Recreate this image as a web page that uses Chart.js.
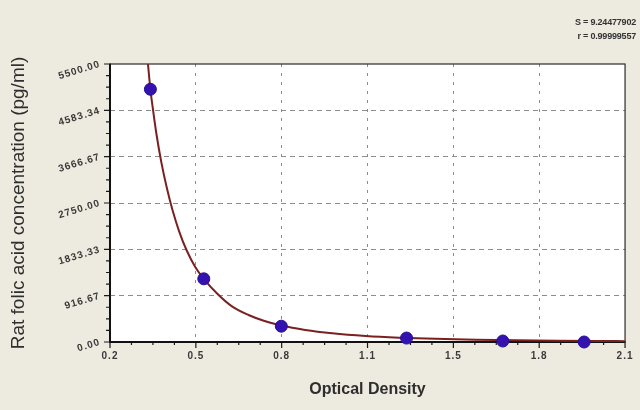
<!DOCTYPE html>
<html>
<head>
<meta charset="utf-8">
<script src="https://cdn.jsdelivr.net/npm/chart.js@4/dist/chart.umd.min.js"></script>
<style>
html,body{margin:0;padding:0;background:#edeadf;}
#wrap{position:relative;width:640px;height:410px;overflow:hidden;}
canvas{display:block;}
.stat{position:absolute;right:4px;font:bold 9px "Liberation Sans",Arial,sans-serif;color:#333;letter-spacing:-0.2px;white-space:nowrap;}
</style>
</head>
<body>
<div id="wrap">
<canvas id="c" width="640" height="410"></canvas>
<div class="stat" style="top:17px">S = 9.24477902</div>
<div class="stat" style="top:31px">r = 0.99999557</div>
</div>
<script>
// ---- data ----
const xTickValues = [0.2, 0.5167, 0.8333, 1.15, 1.4667, 1.7833, 2.1];
const xTickLabels = ['0.2', '0.5', '0.8', '1.1', '1.5', '1.8', '2.1'];
const yTickValues = [0, 916.67, 1833.33, 2750, 3666.67, 4583.34, 5500];
const yTickLabels = ['0.00', '916.67', '1833.33', '2750.00', '3666.67', '4583.34', '5500.00'];

const standardOD   = [0.349, 0.546, 0.832, 1.294, 1.649, 1.949];
const standardConc = [5000, 1250, 312.5, 78.13, 19.53, 0];

const curveOD   = [0.340, 0.349, 0.357, 0.372, 0.390, 0.410, 0.430, 0.455, 0.483, 0.515, 0.546, 0.595, 0.650, 0.711, 0.770, 0.832, 0.920, 1.020, 1.143, 1.267, 1.400, 1.550, 1.700, 1.850, 2.000, 2.100];
const curveConc = [5500, 5000, 4660, 4090, 3540, 3040, 2620, 2190, 1810, 1480, 1250, 960, 705, 534, 415, 325, 238, 172, 119, 86, 63, 46, 34, 26, 20, 17];

const xTitle = 'Optical Density';
const yTitle = 'Rat folic acid concentration (pg/ml)';

// ---- chart ----
const toPts = (xs, ys) => xs.map((x, i) => ({x: x, y: ys[i]}));
const FONT = '"Liberation Sans", Arial, sans-serif';

const framePlugin = {
  id: 'frame',
  beforeDraw(chart) {
    const {ctx, chartArea: a} = chart;
    ctx.save();
    ctx.fillStyle = '#ffffff';
    ctx.fillRect(a.left, a.top, a.right - a.left, a.bottom - a.top);
    ctx.restore();
  },
  beforeDatasetsDraw(chart) {
    const {ctx, chartArea: a, scales} = chart;
    const xs = scales.x, ys = scales.y;
    ctx.save();
    ctx.strokeStyle = '#1a1a1a';
    ctx.lineWidth = 1.2;
    ctx.beginPath();
    for (let i = 0; i < yTickValues.length; i++) {
      const py = ys.getPixelForValue(yTickValues[i]);
      ctx.moveTo(a.left - 6, py); ctx.lineTo(a.left + 1, py);
      if (i < yTickValues.length - 1) {
        for (let k = 1; k < 4; k++) {
          const v = yTickValues[i] + (yTickValues[i + 1] - yTickValues[i]) * k / 4;
          const p = ys.getPixelForValue(v);
          ctx.moveTo(a.left - 4, p); ctx.lineTo(a.left, p);
        }
      }
    }
    for (let i = 0; i < xTickValues.length; i++) {
      const px = xs.getPixelForValue(xTickValues[i]);
      ctx.moveTo(px, a.bottom - 1); ctx.lineTo(px, a.bottom + 6);
      if (i < xTickValues.length - 1) {
        for (let k = 1; k < 4; k++) {
          const v = xTickValues[i] + (xTickValues[i + 1] - xTickValues[i]) * k / 4;
          const p = xs.getPixelForValue(v);
          ctx.moveTo(p, a.bottom); ctx.lineTo(p, a.bottom + 3);
        }
      }
    }
    ctx.stroke();
    ctx.lineWidth = 1.2;
    ctx.strokeStyle = '#2a2a2a';
    ctx.strokeRect(a.left, a.top, a.right - a.left, a.bottom - a.top);
    ctx.lineWidth = 2;
    ctx.strokeStyle = '#111';
    ctx.beginPath();
    ctx.moveTo(a.left, a.top); ctx.lineTo(a.left, a.bottom); ctx.lineTo(a.right, a.bottom);
    ctx.stroke();
    ctx.restore();
  },
  afterDatasetsDraw(chart) {
    chart.ctx.letterSpacing = '1px';
  },
  afterDraw(chart) {
    chart.ctx.letterSpacing = '0px';
  }
};

const gridColor = (ctx) => {
  const n = ctx.scale.ticks.length;
  return (ctx.index === 0 || ctx.index === n - 1) ? 'rgba(0,0,0,0)' : '#8c8c8c';
};

new Chart(document.getElementById('c'), {
  type: 'scatter',
  data: {
    datasets: [
      {
        label: 'curve',
        data: toPts(curveOD, curveConc),
        showLine: true,
        borderColor: '#7a2020',
        borderWidth: 2,
        pointRadius: 0,
        cubicInterpolationMode: 'monotone',
        fill: false,
        order: 2
      },
      {
        label: 'standards',
        data: toPts(standardOD, standardConc),
        showLine: false,
        pointRadius: 6,
        pointHoverRadius: 6,
        pointBackgroundColor: '#3412b0',
        pointBorderColor: '#2a0e96',
        pointBorderWidth: 1,
        clip: false,
        order: 1
      }
    ]
  },
  options: {
    responsive: false,
    animation: false,
    devicePixelRatio: 1,
    layout: {padding: {left: 0, right: 14, top: 64, bottom: 0}},
    plugins: {legend: {display: false}, tooltip: {enabled: false}},
    scales: {
      x: {
        type: 'linear',
        min: 0.2, max: 2.1,
        afterBuildTicks: (s) => { s.ticks = xTickValues.map(v => ({value: v})); },
        afterFit: (s) => { s.height = 68; },
        ticks: {
          callback: (v, i) => xTickLabels[i],
          font: {family: FONT, size: 10, weight: 'bold'},
          color: '#3a3a3a',
          padding: 8,
          maxRotation: 0, minRotation: 0,
          z: 1
        },
        grid: {color: gridColor, lineWidth: 1, drawTicks: false},
        border: {display: false, dash: [3, 6]},
        title: {
          display: true, text: xTitle,
          font: {family: FONT, size: 16, weight: 'bold'},
          color: '#2e2e2e',
          padding: {top: 0, bottom: 11}
        }
      },
      y: {
        type: 'linear',
        min: 0, max: 5500,
        afterBuildTicks: (s) => { s.ticks = yTickValues.map(v => ({value: v})); },
        afterFit: (s) => { s.width = 110; },
        ticks: {
          callback: (v, i) => yTickLabels[i],
          font: {family: FONT, size: 10, weight: 'bold'},
          color: '#3a3a3a',
          padding: 10,
          minRotation: 17, maxRotation: 17,
          z: 1
        },
        grid: {color: gridColor, lineWidth: 1, drawTicks: false},
        border: {display: false, dash: [5, 4]},
        title: {
          display: true, text: yTitle,
          font: {family: FONT, size: 19, weight: 'normal'},
          color: '#2e2e2e',
          padding: {top: 7, bottom: 0}
        }
      }
    }
  },
  plugins: [framePlugin]
});
</script>
</body>
</html>
